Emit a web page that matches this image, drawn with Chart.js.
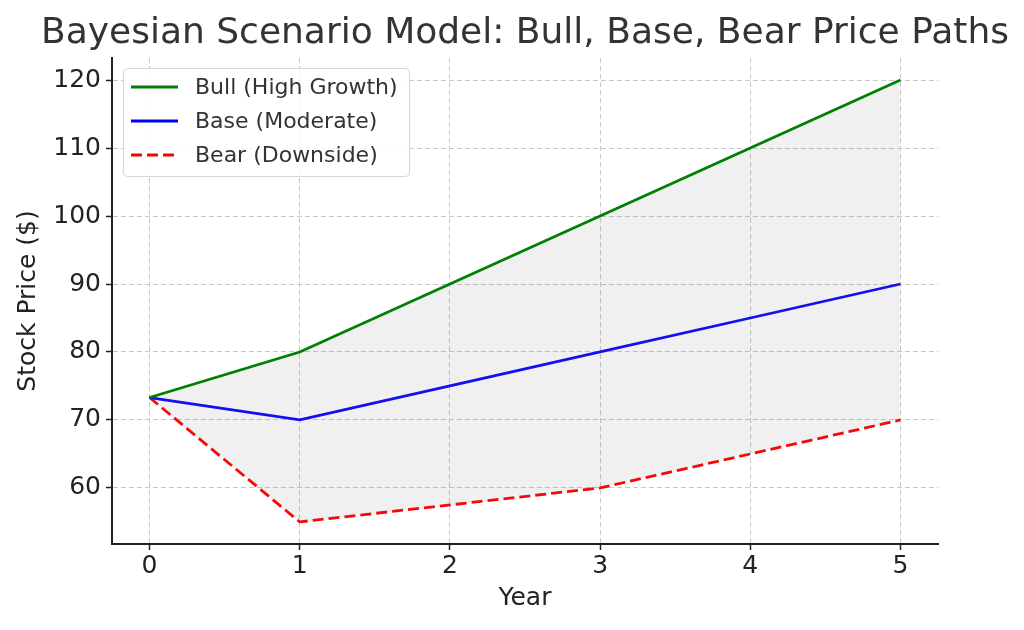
<!DOCTYPE html>
<html>
<head>
<meta charset="utf-8">
<script src="https://cdn.jsdelivr.net/npm/chart.js@4.4.0/dist/chart.umd.min.js"></script>
<style>
  html, body { margin: 0; padding: 0; background: #fff; }
  #chart { display: block; }
</style>
</head>
<body>
<canvas id="chart" width="1024" height="630"></canvas>
<script>
// Scenario paths
const years = [0, 1, 2, 3, 4, 5];
const bullPath = [73.3, 80, 90, 100, 110, 120];
const basePath = [73.3, 70, 75, 80, 85, 90];
const bearPath = [73.3, 55, 57.5, 60, 65, 70];

const titleText = 'Bayesian Scenario Model: Bull, Base, Bear Price Paths';
const FONT = "'DejaVu Sans', sans-serif";
const ink = '#333333';

const toXY = (vals) => vals.map((v, i) => ({ x: years[i], y: v }));

// title + legend box drawn by hand, matplotlib style
const decor = {
  id: 'decor',
  afterDraw(chart) {
    const { ctx, chartArea } = chart;
    ctx.save();
    ctx.fillStyle = ink;
    ctx.font = '36px ' + FONT;
    ctx.textAlign = 'center';
    ctx.textBaseline = 'alphabetic';
    ctx.fillText(titleText, (chartArea.left + chartArea.right) / 2, 43);

    // legend
    const bx = 123, by = 68, bw = 286, bh = 108;
    ctx.beginPath();
    ctx.roundRect(bx + 0.5, by + 0.5, bw, bh, 4);
    ctx.fillStyle = 'rgba(255,255,255,0.85)';
    ctx.fill();
    ctx.strokeStyle = '#d6d6d6';
    ctx.lineWidth = 1;
    ctx.stroke();

    ctx.font = '22px ' + FONT;
    ctx.textAlign = 'left';
    ctx.textBaseline = 'middle';
    chart.data.datasets.forEach((ds, i) => {
      const y = 87 + i * 34;
      ctx.beginPath();
      ctx.setLineDash(ds.borderDash || []);
      ctx.strokeStyle = ds.borderColor;
      ctx.lineWidth = ds.borderWidth;
      ctx.moveTo(131, y);
      ctx.lineTo(178, y);
      ctx.stroke();
      ctx.setLineDash([]);
      ctx.fillStyle = ink;
      ctx.fillText(ds.label, 195, y + 1);
    });
    ctx.restore();
  }
};

const gridStyle = {
  color: '#c8c8c8',
  lineWidth: 1,
  tickLength: 6,
  tickColor: '#222',
  tickWidth: 1.5,
  tickBorderDash: [],
};

new Chart(document.getElementById('chart'), {
  type: 'line',
  data: {
    datasets: [
      {
        label: 'Bull (High Growth)',
        data: toXY(bullPath),
        borderColor: '#008000',
        borderWidth: 2.8,
        pointRadius: 0,
        fill: 2,
        backgroundColor: 'rgba(128,128,128,0.12)',
      },
      {
        label: 'Base (Moderate)',
        data: toXY(basePath),
        borderColor: '#0000ff',
        borderWidth: 2.8,
        pointRadius: 0,
        fill: false,
      },
      {
        label: 'Bear (Downside)',
        data: toXY(bearPath),
        borderColor: '#ff0000',
        borderWidth: 2.8,
        borderDash: [11, 5],
        pointRadius: 0,
        fill: false,
      },
    ],
  },
  options: {
    responsive: false,
    animation: false,
    devicePixelRatio: 1,
    layout: { padding: { top: 58, right: 86, left: 0, bottom: 0 } },
    plugins: {
      legend: { display: false },
      title: { display: false },
      tooltip: { enabled: false },
    },
    scales: {
      x: {
        type: 'linear',
        min: -0.25,
        max: 5.25,
        afterFit: (s) => { s.height = 86; },
        grid: gridStyle,
        border: { display: true, color: '#222', width: 2, dash: [5, 3] },
        ticks: {
          stepSize: 1,
          includeBounds: false,
          color: '#222',
          padding: 1,
          font: { family: FONT, size: 25 },
        },
        title: {
          display: true,
          text: 'Year',
          color: '#222',
          padding: { top: 0, bottom: 17 },
          font: { family: FONT, size: 25 },
        },
      },
      y: {
        min: 51.75,
        max: 123.25,
        afterFit: (s) => { s.width = 112; },
        grid: gridStyle,
        border: { display: true, color: '#222', width: 2, dash: [5, 3] },
        ticks: {
          stepSize: 10,
          includeBounds: false,
          color: '#222',
          padding: 5,
          font: { family: FONT, size: 25 },
        },
        title: {
          display: true,
          text: 'Stock Price ($)',
          color: '#222',
          padding: { top: 13, bottom: 0 },
          font: { family: FONT, size: 25 },
        },
      },
    },
  },
  plugins: [decor],
});
</script>
</body>
</html>
